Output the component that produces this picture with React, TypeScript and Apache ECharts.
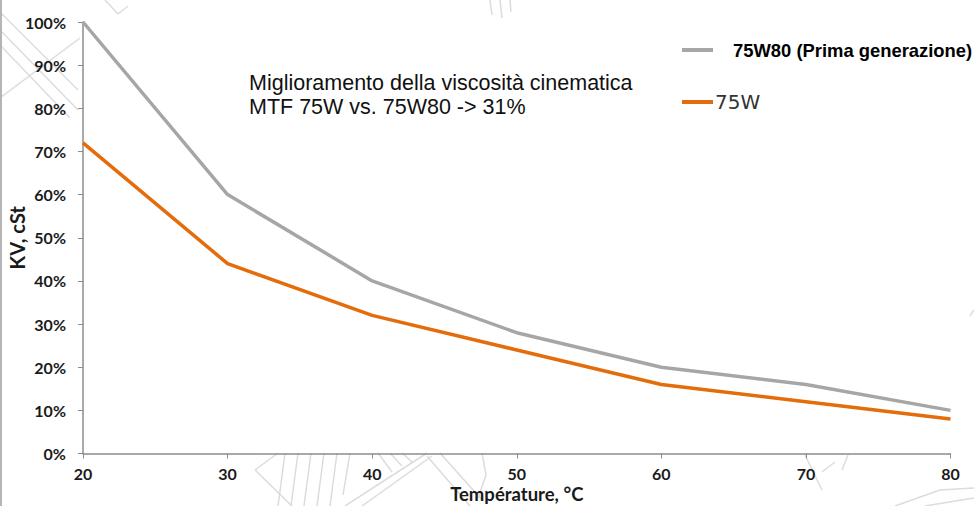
import React, { useEffect, useRef } from "react";
import * as echarts from "echarts";

const temperatures = [20, 30, 40, 50, 60, 70, 80];
const gen1Values = [100, 60, 40, 28, 20, 16, 10];
const w75Values = [72, 44, 32, 24, 16, 12, 8];
const gen1Name = "75W80 (Prima generazione)";
const w75Name = "75W";
const noteLines = ["Miglioramento della viscosità cinematica", "MTF 75W vs. 75W80 -> 31%"];

const sketch: number[][] = [
  [0, 12, 78, 90], [0, 30, 78, 110], [0, 45, 70, 118], [0, 98, 80, 38],
  [105, 0, 118, 14], [118, 14, 128, 6],
  [255, 470, 278, 453], [255, 470, 292, 506], [345, 506, 427, 453], [362, 506, 432, 456],
  [427, 456, 470, 506], [440, 453, 482, 500],
  [285, 453, 278, 506], [298, 453, 291, 506], [311, 453, 304, 506], [324, 453, 317, 506], [337, 453, 330, 506], [350, 453, 343, 495],
  [378, 453, 392, 472], [390, 453, 402, 466], [402, 453, 412, 462],
  [482, 453, 486, 475], [486, 475, 478, 498],
  [805, 455, 822, 490], [822, 472, 835, 462], [842, 470, 848, 455],
  [895, 506, 940, 490], [940, 490, 974, 488], [925, 506, 974, 498],
  [490, 0, 492, 15], [500, 0, 502, 18], [510, 0, 511, 12], [970, 316, 974, 310],
];

export default function App() {
  const ref = useRef<HTMLDivElement>(null);
  useEffect(() => {
    const chart = echarts.init(ref.current!, undefined, { renderer: "svg" });
    const axisColor = "#8c8c8c";
    const labelFont = { fontFamily: "Lato", fontWeight: "bold" as const, fontSize: 16, color: "#1a1a1a" };
    chart.setOption({
      animation: false,
      backgroundColor: "#ffffff",
      grid: { left: 83, right: 23.5, top: 22, bottom: 52.5, outerBoundsMode: "none" },
      legend: [
        {
          data: [gen1Name], left: 682, top: 41, itemWidth: 31, itemHeight: 4, icon: "rect", padding: 0,
          textStyle: { fontFamily: "Liberation Sans", fontWeight: "bold", fontSize: 18.4, color: "#000", padding: [0, 0, 0, 15] },
        },
        {
          data: [w75Name], left: 682, top: 92, itemWidth: 31, itemHeight: 4, icon: "rect", padding: 0,
          textStyle: { fontFamily: "DejaVu Sans", fontSize: 20, color: "#333", padding: [0, 0, 0, -3] },
        },
      ],
      xAxis: {
        type: "value", min: 20, max: 80, interval: 10,
        name: "Température, °C", nameLocation: "middle", nameGap: 31, nameMoveOverlap: false,
        nameTextStyle: { fontFamily: "Lato", fontWeight: "bold", fontSize: 18.5, color: "#1a1a1a" },
        splitLine: { show: false },
        axisLine: { lineStyle: { color: axisColor, width: 1.5 } },
        axisTick: { length: 5, lineStyle: { color: axisColor } },
        axisLabel: { ...labelFont, margin: 12 },
      },
      yAxis: {
        type: "value", min: 0, max: 100, interval: 10,
        name: "KV, cSt", nameLocation: "middle", nameGap: 56, nameRotate: 90, nameMoveOverlap: false,
        nameTextStyle: { fontFamily: "Lato", fontWeight: "bold", fontSize: 20, color: "#1a1a1a" },
        splitLine: { show: false },
        axisLine: { show: true, lineStyle: { color: axisColor, width: 1.5 } },
        axisTick: { show: true, length: 5, lineStyle: { color: axisColor } },
        axisLabel: { ...labelFont, margin: 17, formatter: "{value}%" },
      },
      series: [
        {
          name: gen1Name, type: "line", showSymbol: false, smooth: false,
          data: temperatures.map((t, i) => [t, gen1Values[i]]),
          lineStyle: { color: "#a6a6a6", width: 3.5 }, itemStyle: { color: "#a6a6a6" }, z: 3,
        },
        {
          name: w75Name, type: "line", showSymbol: false, smooth: false,
          data: temperatures.map((t, i) => [t, w75Values[i]]),
          lineStyle: { color: "#e46c0a", width: 3.5 }, itemStyle: { color: "#e46c0a" }, z: 4,
        },
      ],
      graphic: [
        ...sketch.map(([x1, y1, x2, y2]) => ({
          type: "line", silent: true, z: -1,
          shape: { x1, y1, x2, y2 }, style: { stroke: "#dcdcdc", lineWidth: 1.5 },
        })),
        { type: "rect", silent: true, z: -1, shape: { x: 0, y: 0, width: 2, height: 506 }, style: { fill: "#b5b5b5" } },
        {
          type: "text", left: 249, top: 71, z: 10,
          style: { text: noteLines.join("\n"), font: '21.5px "Liberation Sans"', fill: "#111", lineHeight: 24 },
        },
      ],
    });
    return () => chart.dispose();
  }, []);
  return <div ref={ref} style={{ position: "fixed", left: 0, top: 0, width: 974, height: 506 }} />;
}
